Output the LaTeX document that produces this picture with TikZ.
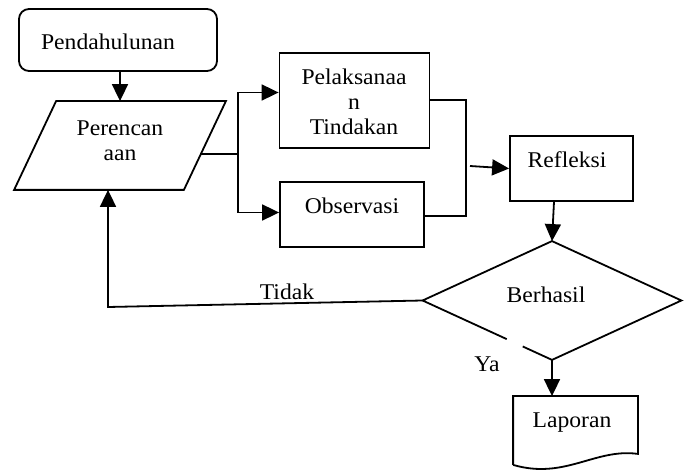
\documentclass[tikz,border=0pt]{standalone}
\usepackage{fontspec}
\setmainfont{Liberation Serif}[FakeStretch=1.05]
\usetikzlibrary{arrows.meta,calc}
\begin{document}
\begin{tikzpicture}[x=1pt,y=-1pt,
  line width=1.8pt,
  arr/.style={-{Triangle[length=17pt,width=16pt]}},
  shapebox/.style={draw=none,rectangle,inner sep=0pt},
  boxd/.style={draw,rectangle,inner sep=0pt},
  txt/.style={font=\fontsize{22.5}{25}\selectfont,align=center,inner sep=0pt}]
\useasboundingbox (0,0) rectangle (686,470);
% Pendahulunan
\node[boxd,rounded corners=10pt,minimum width=198pt,minimum height=62pt] (pend) at (118,40) {};
\node[txt] (pendt) at (108,42) {Pendahulunan};
% Perencanaan parallelogram
\node[shapebox,minimum width=168pt,minimum height=87pt] (pr) at (120,145.5) {};
\draw ($(pr.north west)+(21,0)$) -- ($(pr.north east)+(21,0)$) -- ($(pr.south east)+(-21,0)$) -- ($(pr.south west)+(-21,0)$) -- cycle;
\node[txt] (prt) at (120,141) {Perencan\\aan};
% Pelaksanaan
\node[boxd,minimum width=150pt,minimum height=95pt] (pel) at (354.5,100.5) {};
\node[txt] (pelt) at (354,102) {Pelaksanaa\\n\\Tindakan};
% Observasi
\node[boxd,minimum width=144pt,minimum height=65pt] (obs) at (352,214.5) {};
\node[txt] (obst) at (352,206) {Observasi};
% Refleksi
\node[boxd,minimum width=123pt,minimum height=65pt] (ref) at (571.5,168.5) {};
\node[txt] (reft) at (567,160) {Refleksi};
% Berhasil diamond
\node[shapebox,minimum width=257pt,minimum height=117pt] (dia) at (552,300.5) {};
\coordinate (g1) at ($(dia.south)!0.226!(dia.west)$);
\coordinate (g2) at ($(dia.south)!0.35!(dia.west)$);
\draw (g1) -- (dia.south) -- (dia.east) -- (dia.north) -- (dia.west) -- (g2);
\node[txt] (diat) at (546,295) {Berhasil};
% Laporan document
\node[shapebox,minimum width=123pt,minimum height=67pt] (lap) at (575.5,430.5) {};
\draw (lap.south west) -- (lap.north west) -- (lap.north east) -- ($(lap.south east)+(0,-11)$)
  .. controls (595,448) and (565,480) .. (lap.south west);
\node[txt] (lapt) at (572,423) {Laporan};
% labels
\node[txt] (tidak) at (287,292) {Tidak};
\node[txt] (ya) at (487,364) {Ya};
% connectors
\draw[arr] (pend.south -| pr.north) -- (pr.north);
\coordinate (pe) at (201,154);
\coordinate (jn) at (238,154);
\draw (pe) -- (jn);
\draw[arr] (jn) |- ($(pel.west)+(0,-8)$);
\draw[arr] (jn) |- ($(obs.west)+(0,-2)$);
\coordinate (m1) at (466,100);
\coordinate (m2) at (466,216);
\draw (pel.east |- m1) -- (m1) -- (m2) -- (obs.east |- m2);
\coordinate (mo) at (470,166);
\draw[arr] (mo) -- (ref.west);
\draw[arr] ($(ref.south)+(-17.5,0)$) -- (dia.north);
\coordinate (tb) at (108,307);
\draw[arr] (dia.west) -- (tb) -- (tb |- pr.south);
\draw[arr] (dia.south) -- (dia.south |- lap.north);
\end{tikzpicture}
\end{document}
